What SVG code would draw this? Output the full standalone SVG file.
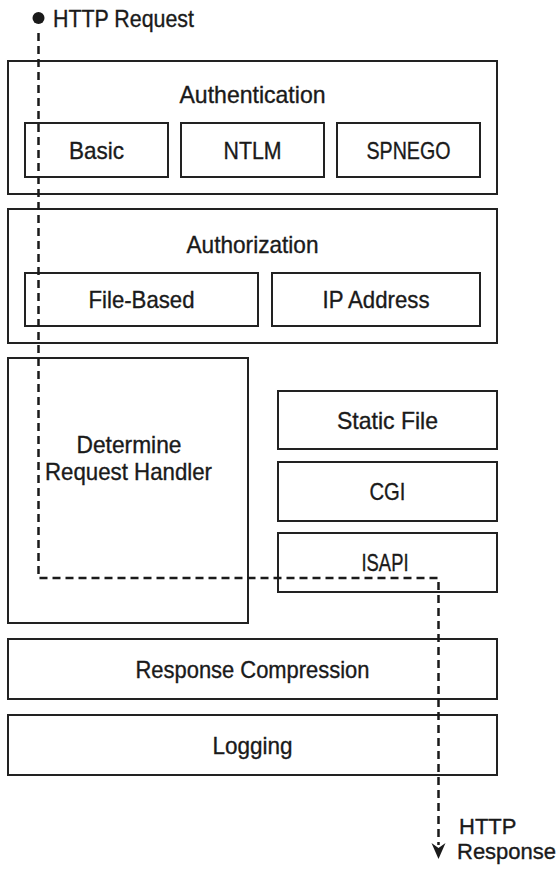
<svg xmlns="http://www.w3.org/2000/svg" width="560" height="869" viewBox="0 0 560 869">
  <style>
    .box { fill: #ffffff; stroke: #222222; stroke-width: 2; }
    .lbl { font-family: "Liberation Sans", Arial, sans-serif; font-size: 24px; fill: #1a1a1a; stroke: #1a1a1a; stroke-width: 0.35; text-anchor: middle; }
    .lbl-l { font-family: "Liberation Sans", Arial, sans-serif; font-size: 24px; fill: #1a1a1a; stroke: #1a1a1a; stroke-width: 0.35; text-anchor: start; }
    .lbl-s { font-family: "Liberation Sans", Arial, sans-serif; font-size: 22px; fill: #1a1a1a; stroke: #1a1a1a; stroke-width: 0.35; text-anchor: start; }
    .flow { fill: none; stroke: #1a1a1a; stroke-width: 2.5; stroke-dasharray: 8 5; }
  </style>
  <rect width="560" height="869" fill="#ffffff"/>

  <g id="authentication">
    <rect class="box" x="8" y="61" width="489" height="133"/>
    <text class="lbl" x="252.5" y="103" textLength="146" lengthAdjust="spacingAndGlyphs">Authentication</text>
  </g>
  <g id="basic">
    <rect class="box" x="25" y="123" width="143" height="54"/>
    <text class="lbl" x="96.5" y="159" textLength="55" lengthAdjust="spacingAndGlyphs">Basic</text>
  </g>
  <g id="ntlm">
    <rect class="box" x="181" y="123" width="143" height="54"/>
    <text class="lbl" x="252.5" y="159" textLength="58" lengthAdjust="spacingAndGlyphs">NTLM</text>
  </g>
  <g id="spnego">
    <rect class="box" x="337" y="123" width="143" height="54"/>
    <text class="lbl" x="408.5" y="159" textLength="84" lengthAdjust="spacingAndGlyphs">SPNEGO</text>
  </g>

  <g id="authorization">
    <rect class="box" x="8" y="209" width="489" height="134"/>
    <text class="lbl" x="252.5" y="253" textLength="132" lengthAdjust="spacingAndGlyphs">Authorization</text>
  </g>
  <g id="file-based">
    <rect class="box" x="25" y="273" width="233" height="53"/>
    <text class="lbl" x="141.5" y="308" textLength="106" lengthAdjust="spacingAndGlyphs">File-Based</text>
  </g>
  <g id="ip-address">
    <rect class="box" x="272" y="273" width="208" height="53"/>
    <text class="lbl" x="376" y="308" textLength="107" lengthAdjust="spacingAndGlyphs">IP Address</text>
  </g>

  <g id="determine-request-handler">
    <rect class="box" x="8" y="358" width="240" height="265"/>
    <text class="lbl" x="129" y="453" textLength="105" lengthAdjust="spacingAndGlyphs">Determine</text>
    <text class="lbl" x="128.5" y="480" textLength="167" lengthAdjust="spacingAndGlyphs">Request Handler</text>
  </g>
  <g id="static-file">
    <rect class="box" x="278" y="391" width="219" height="58"/>
    <text class="lbl" x="387.5" y="429" textLength="101" lengthAdjust="spacingAndGlyphs">Static File</text>
  </g>
  <g id="cgi">
    <rect class="box" x="278" y="462" width="219" height="59"/>
    <text class="lbl" x="387.5" y="500" textLength="36" lengthAdjust="spacingAndGlyphs">CGI</text>
  </g>
  <g id="isapi">
    <rect class="box" x="278" y="533" width="219" height="59"/>
    <text class="lbl" x="385" y="571" textLength="47" lengthAdjust="spacingAndGlyphs">ISAPI</text>
  </g>

  <g id="response-compression">
    <rect class="box" x="8" y="639" width="489" height="60"/>
    <text class="lbl" x="252.5" y="678" textLength="234" lengthAdjust="spacingAndGlyphs">Response Compression</text>
  </g>
  <g id="logging">
    <rect class="box" x="8" y="715" width="489" height="60"/>
    <text class="lbl" x="252.5" y="754" textLength="80" lengthAdjust="spacingAndGlyphs">Logging</text>
  </g>

  <g id="connectors">
    <circle cx="38.5" cy="18" r="6" fill="#1a1a1a"/>
    <path class="flow" d="M38.5,33 V578 H438.5 V845"/>
    <path d="M431.5,843 L438.5,848 L445.5,843 L438.5,859 Z" fill="#1a1a1a"/>
  </g>

  <g id="labels">
    <text class="lbl-l" x="53" y="27" textLength="141" lengthAdjust="spacingAndGlyphs">HTTP Request</text>
    <text class="lbl-s" x="459" y="834">HTTP</text>
    <text class="lbl-s" x="457" y="859">Response</text>
  </g>
</svg>
